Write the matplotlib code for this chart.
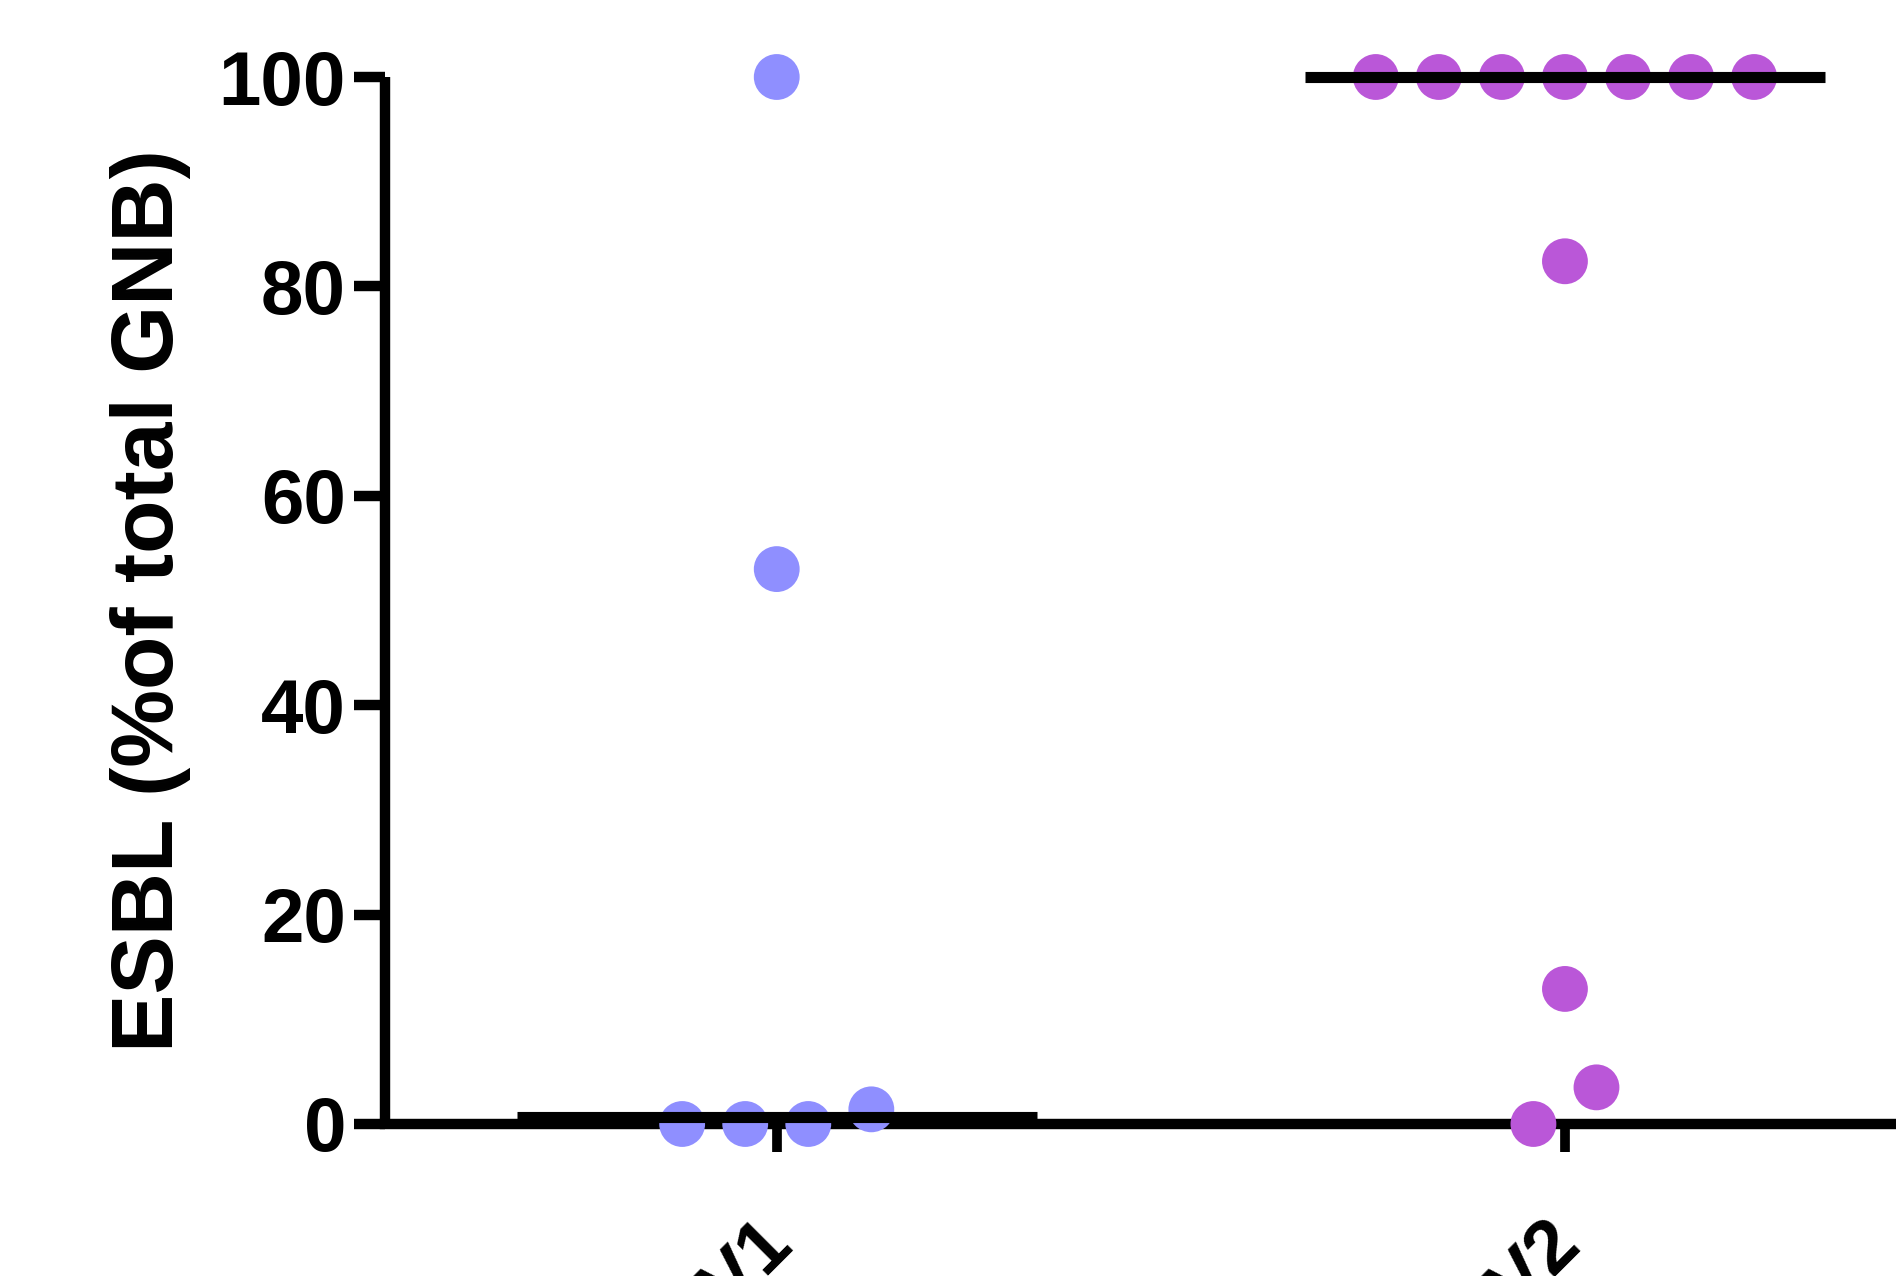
import matplotlib
matplotlib.use('Agg')
import matplotlib.pyplot as plt
import matplotlib.transforms as mtransforms
import numpy as np

plt.rcParams['font.family'] = ['Liberation Sans', 'DejaVu Sans']
plt.rcParams['font.weight'] = 'bold'

# data
groups = ['V1', 'V2']
v1_values = [100, 53, 0, 0, 0, 1.4]
v2_values = [100, 100, 100, 100, 100, 100, 100, 82.4, 12.9, 3.5, 0]
colors = ['#8f8fff', '#ba57d8']
yticks = [0, 20, 40, 60, 80, 100]
ylabel = 'ESBL (%of total GNB)'


def swarm_offsets(vals, close=4.4, step=0.08):
    # put points that sit within one marker of each other side by side
    order = np.argsort(vals, kind='stable')
    offs = np.zeros(len(vals))
    run = [order[0]]
    for k in list(order[1:]) + [None]:
        if k is not None and vals[k] - vals[run[-1]] < close:
            run.append(k)
            continue
        n = len(run)
        for j, idx in enumerate(run):
            offs[idx] = (j - (n - 1) / 2) * step
        if k is not None:
            run = [k]
    return offs


fig = plt.figure(figsize=(18.96, 12.76), dpi=100)
ax = fig.add_axes([385 / 1896, 152 / 1276, 1 - 385 / 1896, 1047 / 1276])

for i, vals in enumerate([v1_values, v2_values]):
    vals = np.array(vals, dtype=float)
    xs = i + swarm_offsets(vals)
    ax.scatter(xs, vals, s=33 ** 2, color=colors[i], edgecolors='none',
               zorder=3, clip_on=False)
    med = np.median(vals)
    ax.plot([i - 0.33, i + 0.33], [med, med], color='black', lw=8,
            solid_capstyle='butt', zorder=4, clip_on=False)

ax.set_xlim(-0.497, 1.42)
ax.set_ylim(0, 100)
ax.set_yticks(yticks)
ax.set_xticks(range(len(groups)))
ax.set_xticklabels(groups, rotation=45, ha='right', rotation_mode='anchor',
                   fontsize=55, fontweight='bold')
ax.tick_params(axis='y', length=22, width=7.5, labelsize=55, pad=6)
ax.tick_params(axis='x', length=20, width=7, pad=40)
for t in ax.get_yticklabels():
    t.set_fontweight('bold')
shift = mtransforms.ScaledTranslation(-0.2, -0.02, fig.dpi_scale_trans)
for t in ax.get_xticklabels():
    t.set_transform(t.get_transform() + shift)

ax.spines['top'].set_visible(False)
ax.spines['right'].set_visible(False)
ax.spines['left'].set_linewidth(7.5)
ax.spines['bottom'].set_linewidth(7.5)
ax.spines['left'].set_capstyle('butt')

ax.set_ylabel(ylabel, fontsize=63, fontweight='bold', labelpad=20)

fig.savefig('out.png', dpi=100)
